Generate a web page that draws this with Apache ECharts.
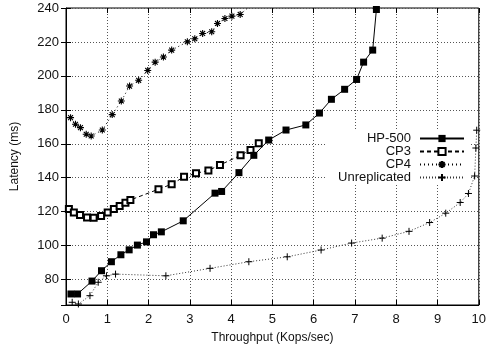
<!DOCTYPE html>
<html><head><meta charset="utf-8">
<script src="https://cdn.jsdelivr.net/npm/echarts@6/dist/echarts.min.js"></script>
<style>html,body{margin:0;padding:0;background:#fff}#c{width:489px;height:351px}</style>
</head><body><div id="c"></div>
<script>
const xTicks = [0,1,2,3,4,5,6,7,8,9,10];
const yTicks = [80,100,120,140,160,180,200,220,240];

const hp500 = [[0.12,71.5],[0.28,71.5],[0.63,79.1],[0.86,85.2],[1.10,90.5],[1.33,94.6],[1.53,97.5],[1.73,100.3],[1.95,102.2],[2.12,106.4],[2.31,108.1],[2.84,114.6],[3.61,130.9],[3.77,131.9],[4.19,143.0],[4.55,153.2],[4.91,162.2],[5.33,168.1],[5.81,171.1],[6.14,178.1],[6.43,186.2],[6.75,192.1],[7.04,197.9],[7.21,208.1],[7.43,215.2],[7.52,239.1]];
const cp3 = [[0.07,121.5],[0.19,119.5],[0.34,118.1],[0.51,116.6],[0.67,116.4],[0.85,117.4],[1.01,119.5],[1.16,121.5],[1.30,123.4],[1.44,125.2],[1.56,126.9],[2.24,133.2],[2.56,136.2],[2.86,140.5],[3.15,142.6],[3.45,144.3],[3.73,147.5],[4.23,153.2],[4.47,156.4],[4.67,160.3]];
const cp4 = [[0.11,175.4],[0.23,171.5],[0.35,169.5],[0.49,165.6],[0.61,164.6],[0.88,168.1],[1.12,177.2],[1.34,185.2],[1.54,194.0],[1.76,197.4],[1.98,203.2],[2.16,208.1],[2.36,211.1],[2.56,215.2],[2.94,220.1],[3.12,221.9],[3.31,225.0],[3.53,226.0],[3.67,230.9],[3.85,233.8],[4.02,235.2],[4.22,236.2],[4.50,242.0]];
const unrep = [[0.15,66.6],[0.30,65.6],[0.58,70.5],[0.78,78.4],[0.98,82.2],[1.20,83.2],[2.42,82.2],[3.49,86.6],[4.43,90.5],[5.36,93.4],[6.18,97.4],[6.92,101.5],[7.66,104.4],[8.31,108.4],[8.81,113.6],[9.20,119.1],[9.55,125.4],[9.75,130.7],[9.90,141.0],[9.93,157.5],[9.95,168.0]];

const seriesNames = ['HP-500','CP3','CP4','Unreplicated'];
const FONT = 'Liberation Sans, Arial, Helvetica, sans-serif';
const ASTER = 'path://M0,5L10,5M5,0L5,10M1.5,1.5L8.5,8.5M8.5,1.5L1.5,8.5';
const PLUS = 'path://M0,5L10,5M5,0L5,10';

const chart = echarts.init(document.getElementById('c'), null, {renderer:'canvas'});
const gridL = 66, gridR = 9, gridT = 8, gridB = 46;

function legendFor(name, top){
  return {
    data:[name], right: 24, top: top, orient:'horizontal', align:'right',
    itemWidth: 44, itemHeight: 9, itemGap: 0, padding: 0,
    textStyle:{fontFamily:FONT, fontSize:13, color:'#111', padding:[0,4,0,0]},
    selectedMode:false
  };
}

const option = {
  animation:false,
  backgroundColor:'#fff',
  grid:{left:gridL, right:gridR, top:gridT, bottom:gridB, show:true, borderColor:'#000', borderWidth:1, backgroundColor:'transparent'},
  graphic:[{type:'rect', z:1, shape:{x:327,y:130,width:143,height:54}, style:{fill:'#fff'}}],
  legend:[legendFor(seriesNames[0],132),legendFor(seriesNames[1],145),legendFor(seriesNames[2],158),legendFor(seriesNames[3],171)],
  xAxis:[{
    type:'value', min:xTicks[0], max:xTicks[xTicks.length-1], interval:1,
    name:'Throughput (Kops/sec)', nameLocation:'middle', nameGap:27,
    nameTextStyle:{fontFamily:FONT, fontSize:12, color:'#111'},
    axisLine:{show:true, lineStyle:{color:'#000', width:1}},
    axisTick:{show:true, inside:true, length:5, lineStyle:{color:'#000'}},
    axisLabel:{fontFamily:FONT, fontSize:13, color:'#111', margin:8},
    splitLine:{show:true, lineStyle:{color:'#555', type:[1,2], width:1}}
  },{
    type:'value', position:'top', min:0, max:10, interval:1,
    axisLine:{show:false}, axisTick:{show:true, inside:true, length:5, lineStyle:{color:'#000'}},
    axisLabel:{show:false}, splitLine:{show:false}
  }],
  yAxis:[{
    type:'value', min:65, max:yTicks[yTicks.length-1], splitNumber:9,
    name:'Latency (ms)', nameLocation:'middle', nameGap:45,
    nameTextStyle:{fontFamily:FONT, fontSize:12, color:'#111'},
    axisLine:{show:true, lineStyle:{color:'#000', width:1}},
    axisTick:{show:true, inside:true, length:5, lineStyle:{color:'#000'}},
    axisLabel:{fontFamily:FONT, fontSize:13, color:'#111', margin:7, showMinLabel:false,
      formatter:v => yTicks.indexOf(v) >= 0 ? String(v) : ''},
    splitLine:{show:true, lineStyle:{color:'#555', type:[1,2], width:1}}
  },{
    type:'value', position:'right', min:65, max:240, splitNumber:9,
    axisLine:{show:false}, axisTick:{show:true, inside:true, length:5, lineStyle:{color:'#000'}},
    axisLabel:{show:false}, splitLine:{show:false}
  }],
  series:[
    {name:seriesNames[0], type:'line', data:hp500, symbol:'rect', symbolSize:7, clip:true, z:5,
     lineStyle:{color:'#000', width:1, type:'solid'}, itemStyle:{color:'#000', borderColor:'#000', borderWidth:0}},
    {name:seriesNames[1], type:'line', data:cp3, symbol:'emptyRect', symbolSize:6, clip:true, z:4,
     lineStyle:{color:'#000', width:1, type:[4,3]}, itemStyle:{color:'#000', borderColor:'#000', borderWidth:1}},
    {name:seriesNames[2], type:'line', data:cp4, symbol:ASTER, symbolSize:7, clip:true, z:4,
     lineStyle:{color:'#000', width:1, type:[1,3]}, itemStyle:{color:'#000', borderColor:'#000', borderWidth:1.1}},
    {name:seriesNames[3], type:'line', data:unrep, symbol:PLUS, symbolSize:7, clip:true, z:4,
     lineStyle:{color:'#333', width:1, type:[1,2]}, itemStyle:{color:'#000', borderColor:'#000', borderWidth:1}}
  ]
};
chart.setOption(option);
</script></body></html>
